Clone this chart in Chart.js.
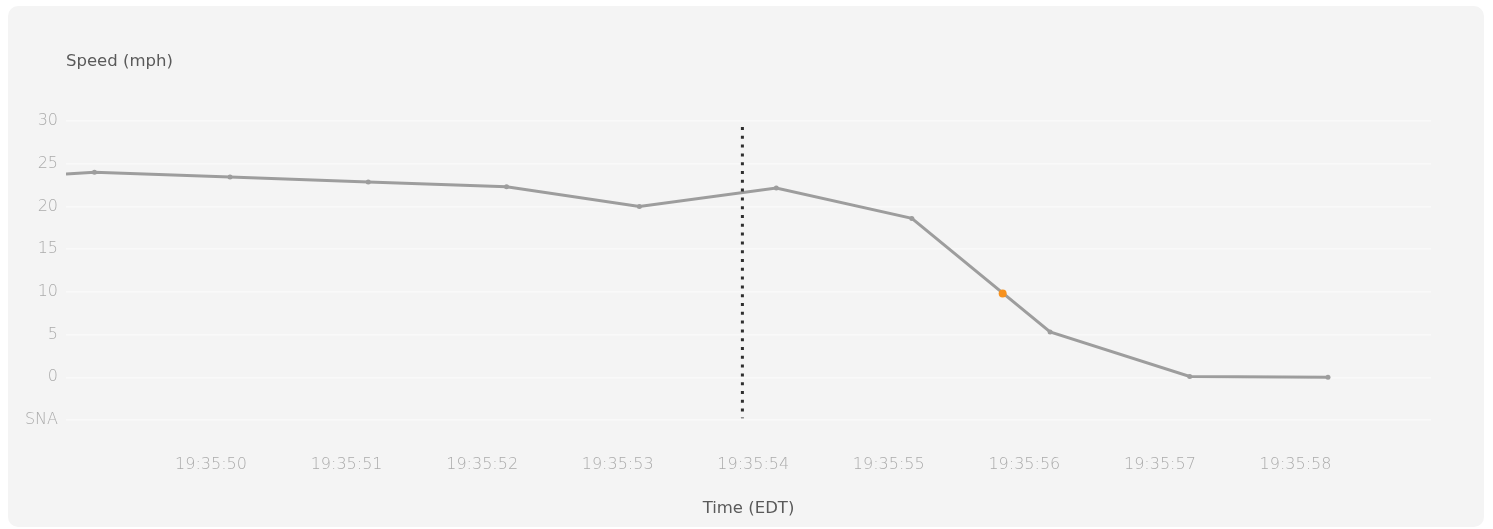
<!DOCTYPE html>
<html>
<head>
<meta charset="utf-8">
<script src="https://cdn.jsdelivr.net/npm/chart.js@4/dist/chart.umd.min.js"></script>
<style>
  html, body { margin: 0; padding: 0; background: #fff; }
  #card {
    position: absolute; left: 8px; top: 6px; width: 1476px; height: 521px;
    background: #f4f4f4; border-radius: 10px;
  }
  #wrap { position: absolute; left: 0; top: 0; width: 1493px; height: 529px; }
</style>
</head>
<body>
<div id="card"></div>
<div id="wrap"><canvas id="speedChart"></canvas></div>
<script>
// seconds past 19:35 and speed in mph
const times = [48.93, 49.14, 50.14, 51.16, 52.18, 53.16, 54.17, 55.17, 56.19, 57.22, 58.24]
const speeds = [23.8, 24.0, 23.45, 22.85, 22.3, 20.0, 22.15, 18.6, 5.3, 0.1, 0.0]

// hovered point and the dotted time cursor
const highlightTime = [55.84]
const highlightSpeed = [9.8]
const cursorTime = 53.92
const cursorSpeeds = [29.3, -4.8]

const tickSeconds = [50, 51, 52, 53, 54, 55, 56, 57, 58]
const speedTicks = [-5, 0, 5, 10, 15, 20, 25, 30]

const tickFont = { family: 'DejaVu Sans', size: 16, weight: 200 }

// draws the y title above the axis, flat
const yTitlePlugin = {
  id: 'yTitle',
  afterDraw(chart) {
    const ctx = chart.ctx
    ctx.save()
    ctx.font = '500 16.5px "DejaVu Sans"'
    ctx.fillStyle = '#5a5a5a'
    ctx.textBaseline = 'middle'
    ctx.fillText('Speed (mph)', chart.chartArea.left, 62)
    ctx.restore()
  }
}

const config = {
  type: 'line',
  data: {
    datasets: [
      {
        label: 'Speed',
        data: times.map((t, i) => ({ x: t, y: speeds[i] })),
        borderColor: '#9d9d9d',
        backgroundColor: '#9d9d9d',
        borderWidth: 3,
        pointRadius: times.map((t, i) => i === 0 ? 0 : 2.5),
        pointBorderWidth: 0,
        tension: 0,
        order: 2
      },
      {
        label: 'highlight',
        data: highlightTime.map((t, i) => ({ x: t, y: highlightSpeed[i] })),
        showLine: false,
        pointRadius: 4,
        pointBorderWidth: 0,
        pointBackgroundColor: '#f7921e',
        order: 0
      },
      {
        label: 'cursor',
        data: cursorSpeeds.map(v => ({ x: cursorTime, y: v })),
        borderColor: '#2e2e2e',
        borderWidth: 3,
        borderDash: [3, 5.8],
        pointRadius: 0,
        order: 1
      }
    ]
  },
  options: {
    responsive: true,
    maintainAspectRatio: false,
    animation: false,
    layout: { padding: { top: 121, left: 20, right: 62, bottom: 0 } },
    plugins: { legend: { display: false }, tooltip: { enabled: false } },
    scales: {
      x: {
        type: 'linear',
        min: 48.93,
        max: 59,
        grid: { display: false, drawTicks: false },
        border: { display: false },
        afterBuildTicks: axis => { axis.ticks = tickSeconds.map(v => ({ value: v })) },
        afterFit: axis => { axis.height = 109 },
        ticks: {
          padding: 35,
          color: '#ababab',
          font: tickFont,
          maxRotation: 0,
          autoSkip: false,
          callback: v => '19:35:' + v
        },
        title: {
          display: true,
          text: 'Time (EDT)',
          color: '#5a5a5a',
          font: { family: 'DejaVu Sans', size: 16.5, weight: 500 },
          padding: { top: 0, bottom: 10 }
        }
      },
      y: {
        min: -5,
        max: 30,
        grid: { color: '#f9f9f9', lineWidth: 1.5, drawTicks: false },
        border: { display: false },
        afterBuildTicks: axis => { axis.ticks = speedTicks.map(v => ({ value: v })) },
        afterFit: axis => { axis.width = 46 },
        ticks: {
          padding: 8,
          color: '#ababab',
          font: tickFont,
          callback: v => v === -5 ? 'SNA' : v
        }
      }
    }
  },
  plugins: [yTitlePlugin]
}

const myChart = new Chart(document.getElementById('speedChart'), config)
</script>
</body>
</html>
